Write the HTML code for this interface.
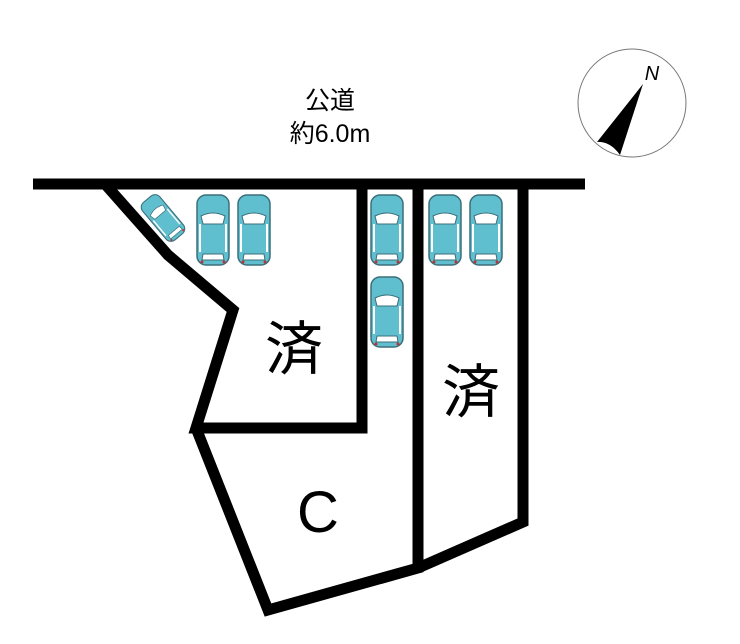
<!DOCTYPE html>
<html><head><meta charset="utf-8"><style>
body{margin:0;background:#fff;width:740px;height:644px;overflow:hidden}
svg{display:block}
text{font-family:"Liberation Sans","Noto Sans CJK JP",sans-serif;fill:#000}
</style></head><body>
<svg width="740" height="644" viewBox="0 0 740 644">
<defs>
<g id="car">
<rect x="-16" y="-35" width="32" height="70" rx="9" fill="#5fbfcf" stroke="#3b6f7a" stroke-width="1.5"/>
<path d="M-12 -14 Q0 -20 12 -14 L10 -6 L-10 -6 Z" fill="#fff" stroke="#3b6f7a" stroke-width="1"/>
<path d="M-10 24 L10 24 L11 30 L-11 30 Z" fill="#fff" stroke="#3b6f7a" stroke-width="1"/>
<rect x="-14" y="-6" width="2" height="28" fill="#fff"/>
<rect x="12" y="-6" width="2" height="28" fill="#fff"/>
<circle cx="-11" cy="32" r="1.5" fill="#b33"/><circle cx="11" cy="32" r="1.5" fill="#b33"/>
</g>
</defs>
<text x="330" y="109" font-size="25" text-anchor="middle">公道</text>
<text x="330" y="142" font-size="25" text-anchor="middle">約6.0m</text>
<circle cx="632" cy="103" r="54" fill="#fff" stroke="#777" stroke-width="1"/>
<text x="652" y="80" font-size="20" font-style="italic" font-family="Liberation Serif" text-anchor="middle">N</text>
<path d="M643 84 L597 142 Q610 141 620 155 Z" fill="#000"/>
<g fill="none" stroke="#000" stroke-width="11" stroke-linejoin="miter">
<line x1="33" y1="184" x2="585" y2="184"/>
<polyline points="105,184 168,255 233,310 196,428 362,428 362,184"/>
<polyline points="196,428 268,610 418,568 418,184"/>
<polyline points="418,568 523,522 523,184"/>
</g>
<use href="#car" x="213" y="230"/>
<use href="#car" x="254" y="230"/>
<use href="#car" x="387" y="230"/>
<use href="#car" x="387" y="312"/>
<use href="#car" x="445" y="230"/>
<use href="#car" x="486" y="230"/>
<use href="#car" transform="translate(163,218) rotate(-40) scale(0.7)"/>
<text x="294" y="369" font-size="58" text-anchor="middle">済</text>
<text x="471" y="412" font-size="58" text-anchor="middle">済</text>
<text x="318" y="532" font-size="58" text-anchor="middle">C</text>
</svg>
</body></html>
